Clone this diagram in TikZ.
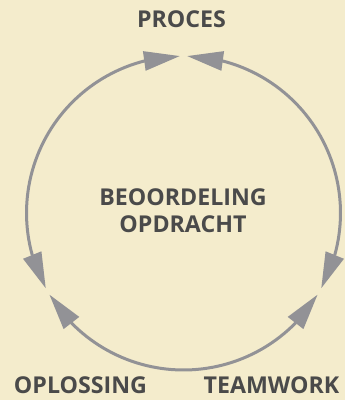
\documentclass[tikz,border=0pt]{standalone}
\usepackage{fontspec}
\setmainfont{Open Sans}
\usetikzlibrary{arrows.meta}
\usetikzlibrary{positioning}
\definecolor{parch}{RGB}{244,236,204}
\definecolor{arrowgray}{RGB}{146,146,150}
\definecolor{textgray}{RGB}{74,74,74}
\tikzset{txt/.style={font=\bfseries\fontsize{23.2}{27}\selectfont,
      text=textgray, inner sep=0pt, text depth=0pt},
      ring/.style={draw=arrowgray, line width=3pt},
      tip/.style={arrowgray, line width=3pt,
      -{Triangle[length=36pt,width=19pt]}}}

\begin{document}
\begin{tikzpicture}[x=1pt,y=1pt]
          \useasboundingbox (0,0) rectangle (345,400);
          \fill[parch] (0,0) rectangle (345,400);
          \coordinate (o) at (183.5,187);

          % arcs between the three points
          \draw[ring] ([shift={(104.4:157)}]o) arc[start angle=104.4, end angle=195.6, radius=157];
          \draw[ring] ([shift={(224.4:157)}]o) arc[start angle=224.4, end angle=315.6, radius=157];
          \draw[ring] ([shift={(344.4:157)}]o) arc[start angle=344.4, end angle=435.6, radius=157];

          % heads
          \draw[tip] ([shift={(104.4:157)}]o) -- ([shift={(91.3:157)}]o);
          \draw[tip] ([shift={(195.6:157)}]o) -- ([shift={(208.7:157)}]o);
          \draw[tip] ([shift={(224.4:157)}]o) -- ([shift={(211.3:157)}]o);
          \draw[tip] ([shift={(315.6:157)}]o) -- ([shift={(328.7:157)}]o);
          \draw[tip] ([shift={(344.4:157)}]o) -- ([shift={(331.3:157)}]o);
          \draw[tip] ([shift={(75.6:157)}]o) -- ([shift={(88.7:157)}]o);

          \node[txt, anchor=base] (proc) at (181.5,372) {PROCES};
          \node[txt, anchor=base] (beo) at (183,194) {BEOORDELING};
          \node[txt, below=27pt of beo.base, anchor=base] (opd) {OPDRACHT};
          \node[txt, anchor=base] (opl) at (80.5,6) {OPLOSSING};
          \node[txt, anchor=base] (team) at (271.5,6) {TEAMWORK};
       \end{tikzpicture}
\end{document}
